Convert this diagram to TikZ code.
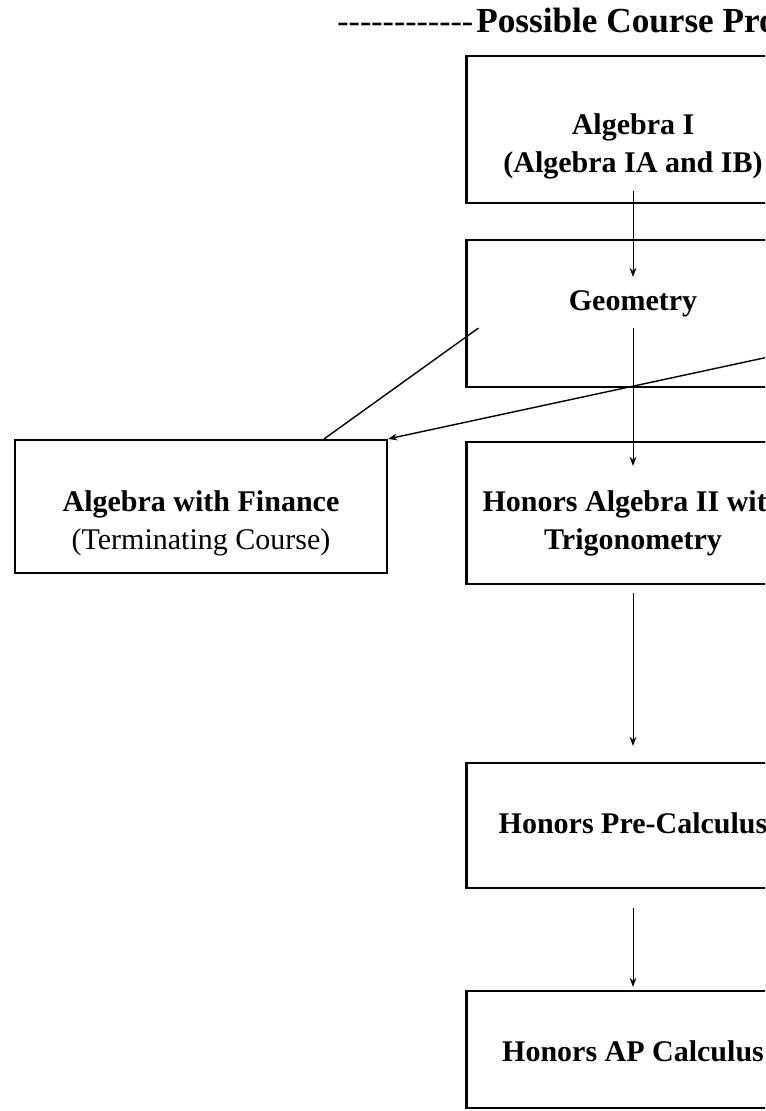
\documentclass[tikz,border=0pt]{standalone}
\usepackage{fontspec}
\setmainfont{Liberation Serif}
\usetikzlibrary{arrows.meta,calc}

\newcommand{\dashrun}{\foreach \d in {1,...,12}{-\kern0pt}}

\begin{document}
\begin{tikzpicture}[
        x=0.5pt, y=-0.5pt,                % one unit is one pixel of the sketch
        >={Stealth[length=4.5pt,width=3.4pt]},
        course/.style={draw, line width=1.1pt, minimum width=166.5pt, inner sep=0pt},
        coursetext/.style={font=\bfseries\fontsize{15}{19}\selectfont, align=center, inner sep=0pt},
        heading/.style={font=\fontsize{17}{20}\selectfont, inner sep=0pt},
        link/.style={line width=0.7pt},
        arrow/.style={->, line width=0.5pt}
    ]
    \useasboundingbox (0,0) rectangle (765,1111);
    \clip (0,0) rectangle (765,1111);
    \fill[white] (0,0) rectangle (765,1111);

    % title
    \node[heading, anchor=base west] (head) at (337,33)
        {\dashrun\kern1.5pt{\bfseries\fontsize{17.6}{20}\selectfont Possible Course Progression}};

    % boxes
    \node[course, minimum height=73.5pt] (alg1) at (633,129.5) {};
    \node[course, minimum height=73.5pt] (geo)  at (633,313.5) {};
    \node[course, minimum height=71pt]   (hon2) at (633,513) {};
    \node[course, minimum height=62.5pt] (pre)  at (633,825.5) {};
    \node[course, minimum height=58.5pt] (ap)   at (633,1049.5) {};
    \node[course, minimum width=186pt, minimum height=66.5pt] (fin) at (201,506.5) {};

    % texts
    \node[coursetext] (alg1t) at (633,146) {Algebra I\\(Algebra IA and IB)};
    \node[coursetext, anchor=base] (geot) at (633,311) {Geometry};
    \node[coursetext] (hon2t) at (633,523.5) {Honors Algebra II with\\Trigonometry};
    \node[coursetext, anchor=base] (pret) at (633,833) {Honors Pre-Calculus};
    \node[coursetext, anchor=base] (apt)  at (633,1061.5) {Honors AP Calculus};
    \node[coursetext] (fint) at (201,523) {Algebra with Finance\\\mdseries(Terminating Course)};

    % arrows
    \draw[arrow, shorten <=-6.5pt, shorten >=-19pt] (alg1) -- (geo);
    \draw[arrow, shorten <=-30pt, shorten >=-12.5pt] (geo) -- (hon2);
    \draw[arrow, shorten <=4pt, shorten >=8pt] (hon2) -- (pre);
    \draw[arrow, shorten <=9.5pt, shorten >=1.5pt] (pre) -- (ap);

    % links to the terminating course
    \draw[link] ($(geo.south west)+(13,-60)$) -- ($(fin.north east)+(-64,0)$);
    \coordinate (far) at (900,328.7);
    \draw[arrow, link] (far) -- (fin.north east);
\end{tikzpicture}
\end{document}
